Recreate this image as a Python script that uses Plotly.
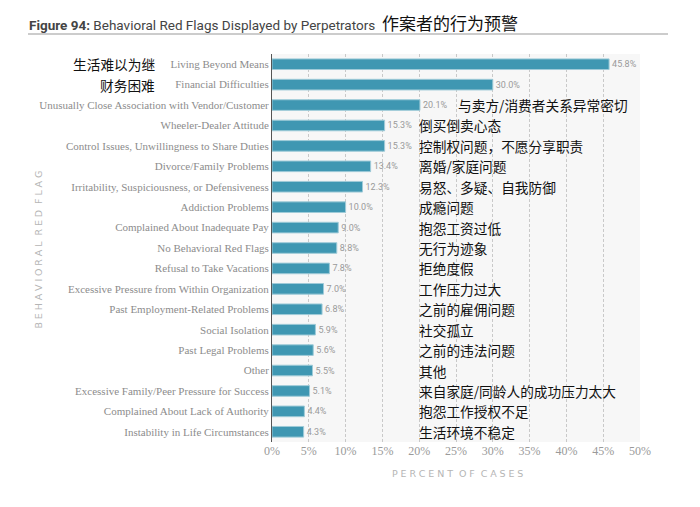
import plotly.graph_objects as go

categories = [
    "Living Beyond Means",
    "Financial Difficulties",
    "Unusually Close Association with Vendor/Customer",
    "Wheeler-Dealer Attitude",
    "Control Issues, Unwillingness to Share Duties",
    "Divorce/Family Problems",
    "Irritability, Suspiciousness, or Defensiveness",
    "Addiction Problems",
    "Complained About Inadequate Pay",
    "No Behavioral Red Flags",
    "Refusal to Take Vacations",
    "Excessive Pressure from Within Organization",
    "Past Employment-Related Problems",
    "Social Isolation",
    "Past Legal Problems",
    "Other",
    "Excessive Family/Peer Pressure for Success",
    "Complained About Lack of Authority",
    "Instability in Life Circumstances",
]
values = [45.8, 30.0, 20.1, 15.3, 15.3, 13.4, 12.3, 10.0, 9.0, 8.8,
          7.8, 7.0, 6.8, 5.9, 5.6, 5.5, 5.1, 4.4, 4.3]
chinese = [
    "生活难以为继", "财务困难", "与卖方/消费者关系异常密切", "倒买倒卖心态",
    "控制权问题，不愿分享职责", "离婚/家庭问题", "易怒、多疑、自我防御", "成瘾问题",
    "抱怨工资过低", "无行为迹象", "拒绝度假", "工作压力过大", "之前的雇佣问题",
    "社交孤立", "之前的违法问题", "其他", "来自家庭/同龄人的成功压力太大",
    "抱怨工作授权不足", "生活环境不稳定",
]
x_ticks = [0, 5, 10, 15, 20, 25, 30, 35, 40, 45, 50]
x_tick_labels = [f"{t}%" for t in x_ticks]

title_en_bold = "Figure 94:"
title_en = "Behavioral Red Flags Displayed by Perpetrators"
title_cn = "作案者的行为预警"

def spaced(s):
    return "\u2009\u200a".join(list(s))

# page geometry (pixels in the 700x507 window); page body has an 8px margin
OFF = 8
PW, PH = 700, 507
W, H = PW - 2 * OFF, PH - 2 * OFF
PL, PR, PT, PB = 272, 640, 54, 442   # plot area edges in page pixels
L = PL - OFF
T = PT - OFF
R = W - (PR - OFF)
B = H - (PB - OFF)
pw = PR - PL
ph = PB - PT

def px_x(p):
    return (p - PL) / pw

def px_y(p):
    return (PB - p) / ph

fig = go.Figure()
fig.add_trace(go.Bar(
    x=values, y=categories, orientation="h",
    marker=dict(color="#3f97b2", line=dict(color="#9fcbd8", width=1)),
    width=0.52,
    text=[f"{v:.1f}%" for v in values],
    textposition="outside",
    textfont=dict(family="Roboto", size=9, color="#9a9a9a"),
    cliponaxis=False,
    hoverinfo="skip",
))

cn_font = dict(family="Noto Sans CJK SC", size=13.7, color="#111")
annotations = []
for i, (cat, cn) in enumerate(zip(categories, chinese)):
    if i < 2:
        annotations.append(dict(x=px_x(157), xref="paper", y=cat, yref="y",
                                text=cn, showarrow=False, xanchor="right", font=cn_font))
    elif i == 2:
        annotations.append(dict(x=25.0, xref="x", y=cat, yref="y",
                                text=cn, showarrow=False, xanchor="left", font=cn_font))
    else:
        annotations.append(dict(x=19.7, xref="x", y=cat, yref="y",
                                text=cn, showarrow=False, xanchor="left", font=cn_font))

annotations.append(dict(
    x=px_x(27), xref="paper", y=px_y(22), yref="paper", xanchor="left", yanchor="middle",
    showarrow=False,
    text=(f"<b>{title_en_bold}</b> {title_en}  "
          f"<span style='font-family:Noto Sans CJK SC;font-size:17px;color:#111'>{title_cn}</span>"),
    font=dict(family="Roboto", size=13.5, color="#444"),
))
annotations.append(dict(
    x=px_x(30), xref="paper", y=px_y(250), yref="paper", textangle=-90,
    showarrow=False, text=spaced("BEHAVIORAL") + "  " + spaced("RED") + "  " + spaced("FLAG"),
    font=dict(family="DejaVu Sans", size=9.5, color="#b5b5b5"),
))
annotations.append(dict(
    x=px_x(457), xref="paper", y=px_y(481), yref="paper",
    showarrow=False, text=spaced("PERCENT") + "  " + spaced("OF") + "  " + spaced("CASES"),
    font=dict(family="DejaVu Sans", size=9.5, color="#b5b5b5"),
))

fig.update_layout(
    width=W, height=H,
    margin=dict(l=L, r=R, t=T, b=B),
    paper_bgcolor="white",
    plot_bgcolor="#f7f7f7",
    showlegend=False,
    annotations=annotations,
    shapes=[dict(type="line", xref="paper", yref="paper",
                 x0=px_x(28), x1=px_x(668), y0=px_y(34), y1=px_y(34),
                 line=dict(color="#999", width=1.2))],
    xaxis=dict(
        range=[0, 50], tickvals=x_ticks, ticktext=x_tick_labels,
        showgrid=True, gridcolor="#c9c9c9", griddash="3px,2px", gridwidth=1,
        zeroline=False, showline=False, ticks="",
        tickfont=dict(family="Liberation Serif", size=12, color="#9a9a9a"),
        fixedrange=True,
    ),
    yaxis=dict(
        autorange=False, range=[18.5, -0.5],
        showgrid=False, zeroline=False, showline=True, linecolor="#555", linewidth=1,
        ticks="", ticklen=0,
        tickfont=dict(family="Liberation Serif", size=11, color="#8c8c8c"),
        fixedrange=True,
    ),
)
fig.write_html("out.html")
